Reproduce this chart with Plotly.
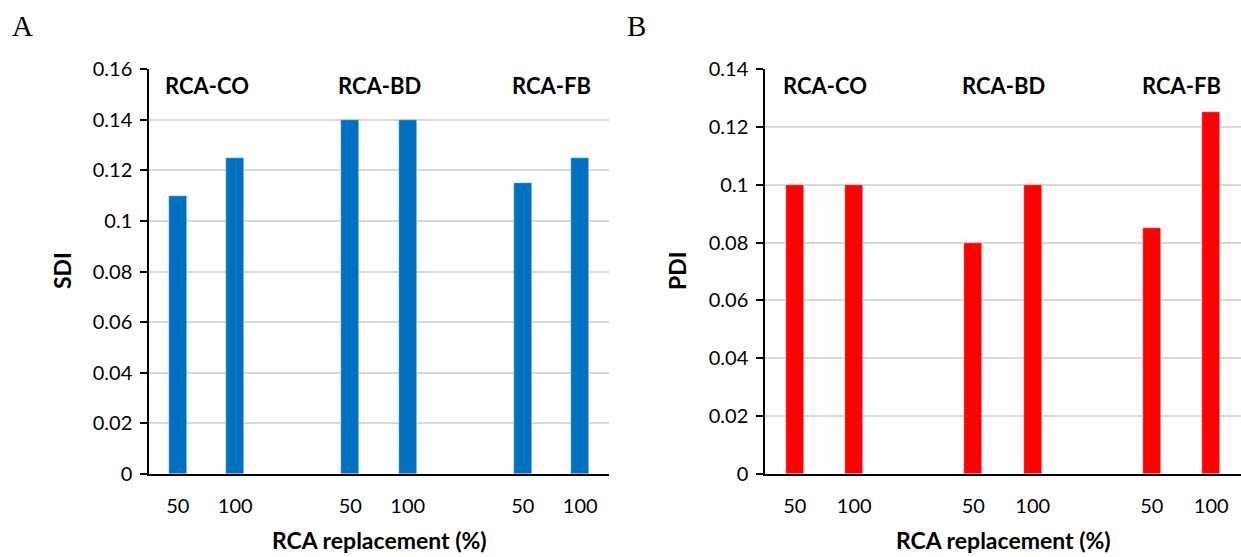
import plotly.graph_objects as go

# ---- data ----
positions = [1, 2, 4, 5, 7, 8]
tick_labels = ["50", "100", "50", "100", "50", "100"]
groups = ["RCA-CO", "RCA-BD", "RCA-FB"]
group_pos = [1.5, 4.5, 7.5]
sdi = [0.11, 0.125, 0.14, 0.14, 0.115, 0.125]
pdi = [0.10, 0.10, 0.08, 0.10, 0.085, 0.125]
sdi_ticks = [0, 0.02, 0.04, 0.06, 0.08, 0.1, 0.12, 0.14, 0.16]
sdi_ticktext = ["0", "0.02", "0.04", "0.06", "0.08", "0.1", "0.12", "0.14", "0.16"]
pdi_ticks = [0, 0.02, 0.04, 0.06, 0.08, 0.1, 0.12, 0.14]
pdi_ticktext = ["0", "0.02", "0.04", "0.06", "0.08", "0.1", "0.12", "0.14"]

W, H = 1241, 557
FONT = "Lato"

fig = go.Figure()
fig.add_trace(go.Bar(x=positions, y=sdi, marker_color="#0070C0", width=0.31,
                     xaxis="x", yaxis="y", showlegend=False))
fig.add_trace(go.Bar(x=positions, y=pdi, marker_color="#FF0000", width=0.30,
                     xaxis="x2", yaxis="y2", showlegend=False))

ybot = 1 - 474 / H
ytop = 1 - 69 / H

common_x = dict(range=[0.5, 8.5], tickmode="array", tickvals=positions, ticktext=tick_labels,
                showline=True, linecolor="black", linewidth=1.5, ticks="", showgrid=False,
                zeroline=False, tickfont=dict(family=FONT, size=20, color="black"),
                fixedrange=True, automargin=False, ticklabelstandoff=13)
common_y = dict(showline=True, linecolor="black", linewidth=1.5, ticks="outside", ticklen=7,
                tickcolor="black", tickwidth=1.5, showgrid=True, gridcolor="#d9d9d9",
                gridwidth=1.5, zeroline=False, tickfont=dict(family=FONT, size=20, color="black"),
                automargin=False, ticklabelstandoff=4)

fig.update_layout(
    width=W, height=H,
    margin=dict(l=0, r=0, t=0, b=0, autoexpand=False),
    plot_bgcolor="white", paper_bgcolor="white",
    bargap=0,
    xaxis=dict(domain=[149 / W, 609 / W], anchor="y", **common_x),
    yaxis=dict(domain=[ybot, ytop], anchor="x", range=[0, 0.16], tickmode="array",
               tickvals=sdi_ticks, ticktext=sdi_ticktext, **common_y),
    xaxis2=dict(domain=[765 / W, 1.0], anchor="y2", **common_x),
    yaxis2=dict(domain=[ybot, ytop], anchor="x2", range=[0, 0.14], tickmode="array",
                tickvals=pdi_ticks, ticktext=pdi_ticktext, **common_y),
)

ann = []
for g, p in zip(groups, group_pos):
    for xr in ("x", "x2"):
        ann.append(dict(x=p, y=1 - 85 / H, xref=xr, yref="paper", text="<b>%s</b>" % g,
                        showarrow=False, font=dict(family=FONT, size=22, color="black"),
                        xanchor="center", yanchor="middle"))
# axis titles
for xc in (379, 1003):
    ann.append(dict(x=xc / W, y=1 - 540 / H, xref="paper", yref="paper",
                    text="<b>RCA replacement (%)</b>", showarrow=False,
                    font=dict(family=FONT, size=23, color="black"),
                    xanchor="center", yanchor="middle"))
ann.append(dict(x=62 / W, y=1 - 271 / H, xref="paper", yref="paper", text="<b>SDI</b>",
                textangle=-90, showarrow=False, font=dict(family=FONT, size=23, color="black"),
                xanchor="center", yanchor="middle"))
ann.append(dict(x=677 / W, y=1 - 271 / H, xref="paper", yref="paper", text="<b>PDI</b>",
                textangle=-90, showarrow=False, font=dict(family=FONT, size=23, color="black"),
                xanchor="center", yanchor="middle"))
# panel letters
ann.append(dict(x=22 / W, y=1 - 26 / H, xref="paper", yref="paper", text="A", showarrow=False,
                font=dict(family="Liberation Serif", size=29, color="black"),
                xanchor="center", yanchor="middle"))
ann.append(dict(x=636 / W, y=1 - 26 / H, xref="paper", yref="paper", text="B", showarrow=False,
                font=dict(family="Liberation Serif", size=29, color="black"),
                xanchor="center", yanchor="middle"))
fig.update_layout(annotations=ann)

fig.write_html("out.html")
